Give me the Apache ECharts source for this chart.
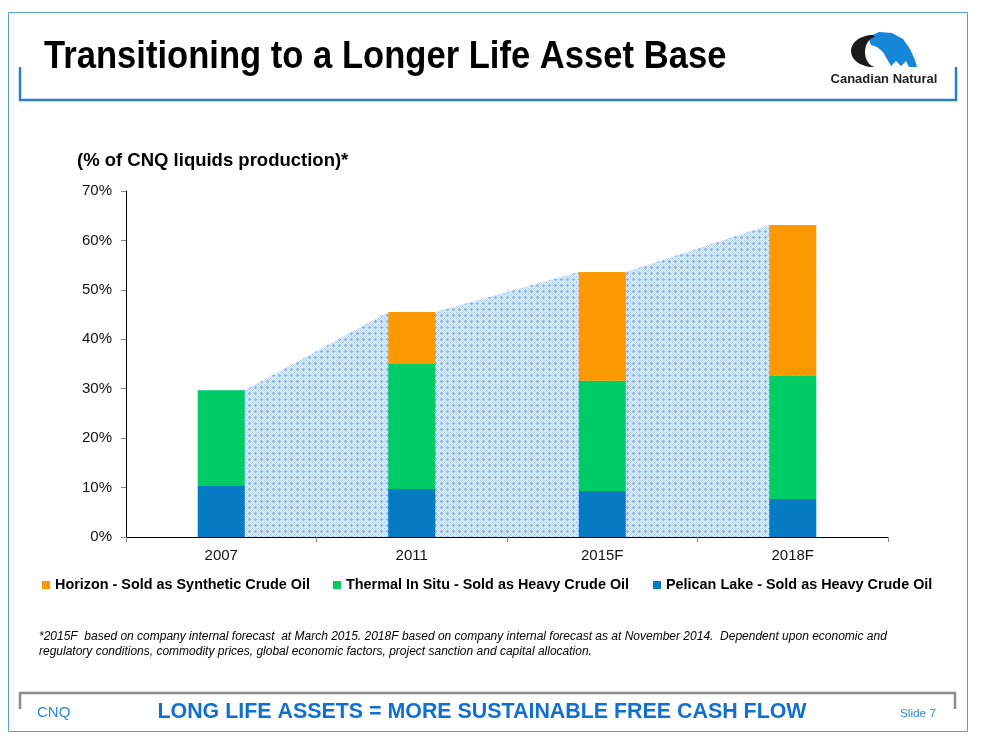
<!DOCTYPE html>
<html>
<head>
<meta charset="utf-8">
<script src="https://cdn.jsdelivr.net/npm/echarts@6/dist/echarts.min.js"></script>
<style>
html,body{margin:0;padding:0;background:#fff;}
#c{width:981px;height:747px;}
</style>
</head>
<body>
<div id="c"></div>
<script>
// ---- data ----
const categories = ['2007', '2011', '2015F', '2018F'];
const pelican = [10.3, 9.7, 9.3, 7.7];   // Pelican Lake - Sold as Heavy Crude Oil
const thermal = [19.4, 25.4, 22.3, 24.9]; // Thermal In Situ - Sold as Heavy Crude Oil
const horizon = [0, 10.4, 22.0, 30.5];    // Horizon - Sold as Synthetic Crude Oil
const yTicks = [0, 10, 20, 30, 40, 50, 60, 70];
const seriesNames = [
  'Horizon - Sold as Synthetic Crude Oil',
  'Thermal In Situ - Sold as Heavy Crude Oil',
  'Pelican Lake - Sold as Heavy Crude Oil'
];

const FONT = '"Liberation Sans", Arial, Helvetica, sans-serif';
const W = 981, H = 747;
const gridLeft = 126, gridRight = 93, gridTop = 191, gridBottom = 210;
const barWidth = 47;

// totals for the shaded connecting area
const totals = categories.map((c, i) => pelican[i] + thermal[i] + horizon[i]);
const catW = (W - gridLeft - gridRight) / categories.length;
const hw = (barWidth / 2) / catW;
const areaData = [];
totals.forEach((t, i) => {
  areaData.push([i + 0.5 - hw, t]);
  areaData.push([i + 0.5 + hw, t]);
});

// dotted pattern
const pc = document.createElement('canvas');
pc.width = 6; pc.height = 6;
const pctx = pc.getContext('2d');
pctx.fillStyle = '#eef4fc'; pctx.fillRect(0, 0, 6, 6);
pctx.fillStyle = '#bcd5f3';
for (let x = 0; x < 6; x++) for (let y = 0; y < 6; y++) if ((x + y) % 2 === 0) pctx.fillRect(x, y, 1, 1);
pctx.fillStyle = '#8db6ea';
[[3,3],[2,3],[4,3],[3,2],[3,4],[0,0]].forEach(p => pctx.fillRect(p[0], p[1], 1, 1));

// logo outline helpers (decoration only)
function ellArc(cx, cy, rx, ry, a0, a1, n) {
  const pts = [];
  for (let k = 0; k <= n; k++) {
    const a = a0 + (a1 - a0) * k / n;
    pts.push([cx + rx * Math.cos(a), cy + ry * Math.sin(a)]);
  }
  return pts;
}
const crescentPts = ellArc(873, 51, 22, 16, -Math.PI / 2, -Math.PI * 1.5, 30)
  .concat(ellArc(876, 52, 11, 15, Math.PI / 2, Math.PI * 1.5, 30).slice(1, -1));

const chart = echarts.init(document.getElementById('c'), null, {renderer: 'canvas'});

const legendText = {fontFamily: FONT, fontWeight: 'bold', fontSize: 14.4, color: '#000'};
function mkLegend(name, left) {
  return {
    data: [name], left: left, top: 578, icon: 'rect', itemWidth: 8, itemHeight: 8,
    itemGap: 0, textStyle: legendText, selectedMode: false, padding: 0
  };
}

function txt(x, y, text, font, fill, align, extra) {
  return Object.assign({type: 'text', x: x, y: y, silent: true,
    style: {text: text, font: font, fill: fill, textAlign: align, align: align,
      textVerticalAlign: 'middle', verticalAlign: 'middle'}}, extra || {});
}

chart.setOption({
  animation: false,
  backgroundColor: '#fff',
  grid: {left: gridLeft, right: gridRight, top: gridTop, bottom: gridBottom, containLabel: false},
  legend: [
    mkLegend(seriesNames[0], 42),
    mkLegend(seriesNames[1], 333),
    mkLegend(seriesNames[2], 653)
  ],
  xAxis: [{
    type: 'category', data: categories, boundaryGap: true,
    axisLine: {lineStyle: {color: '#000', width: 1}},
    axisTick: {show: true, length: 5, lineStyle: {color: '#888'}},
    axisLabel: {fontFamily: FONT, fontSize: 15, color: '#111', margin: 11}
  }, {
    type: 'value', min: 0, max: categories.length, show: false
  }],
  yAxis: {
    type: 'value', min: yTicks[0], max: yTicks[yTicks.length - 1], interval: 10,
    axisLine: {show: true, lineStyle: {color: '#000', width: 1}},
    axisTick: {show: true, length: 5, lineStyle: {color: '#888'}},
    splitLine: {show: false},
    axisLabel: {fontFamily: FONT, fontSize: 15, color: '#111', margin: 14, formatter: '{value}%'}
  },
  series: [{
    type: 'line', xAxisIndex: 1, yAxisIndex: 0, data: areaData, z: 1,
    symbol: 'none', silent: true,
    lineStyle: {width: 0, opacity: 0},
    areaStyle: {color: {image: pc, repeat: 'repeat'}, opacity: 1}
  }, {
    name: seriesNames[2], type: 'bar', stack: 'a', data: pelican, barWidth: barWidth, z: 3,
    itemStyle: {color: '#057bc4'}
  }, {
    name: seriesNames[1], type: 'bar', stack: 'a', data: thermal, barWidth: barWidth, z: 3,
    itemStyle: {color: '#00cc66'}
  }, {
    name: seriesNames[0], type: 'bar', stack: 'a', data: horizon, barWidth: barWidth, z: 3,
    itemStyle: {color: '#fc9900'}
  }],
  graphic: [
    {type: 'rect', silent: true, shape: {x: 8.5, y: 12.5, width: 959, height: 719}, style: {fill: 'none', stroke: '#5b9fd6', lineWidth: 1}},
    {type: 'polyline', silent: true, shape: {points: [[20, 67], [20, 100], [956, 100], [956, 67]]}, style: {fill: 'none', stroke: '#2a7fc6', lineWidth: 2.5}},
    {type: 'polyline', silent: true, shape: {points: [[20, 709], [20, 693], [955, 693], [955, 709]]}, style: {fill: 'none', stroke: '#8c8c8c', lineWidth: 2.5}},
    txt(44, 57, 'Transitioning to a Longer Life Asset Base', 'bold 39px ' + FONT, '#000', 'left', {scaleX: 0.887}),
    // logo
    {type: 'polygon', silent: true, z: 10, shape: {points: [[868, 37], [879, 32], [892, 33], [903, 39], [910, 49], [915, 60], [917, 67], [909, 67], [906, 61], [901, 66], [896, 61], [891, 66], [887, 59], [883, 52], [877, 47], [871, 45]]}, style: {fill: '#1586d8'}},
    {type: 'polygon', silent: true, z: 20, shape: {points: crescentPts}, style: {fill: '#1a1a1a'}},
    txt(884, 79, 'Canadian Natural', 'bold 13px ' + FONT, '#222', 'center'),
    txt(77, 161, '(% of CNQ liquids production)*', 'bold 18.5px ' + FONT, '#000', 'left'),
    txt(39, 637, '*2015F  based on company internal forecast  at March 2015. 2018F based on company internal forecast as at November 2014.  Dependent upon economic and', 'italic 12px ' + FONT, '#000', 'left'),
    txt(39, 652, 'regulatory conditions, commodity prices, global economic factors, project sanction and capital allocation.', 'italic 12px ' + FONT, '#000', 'left'),
    txt(37, 713, 'CNQ', '15px ' + FONT, '#2a8ad4', 'left'),
    txt(482, 712, 'LONG LIFE ASSETS = MORE SUSTAINABLE FREE CASH FLOW', 'bold 21.4px ' + FONT, '#0f6fd2', 'center'),
    txt(936, 714, 'Slide 7', '11.8px ' + FONT, '#2a8ad4', 'right')
  ]
});
</script>
</body>
</html>
